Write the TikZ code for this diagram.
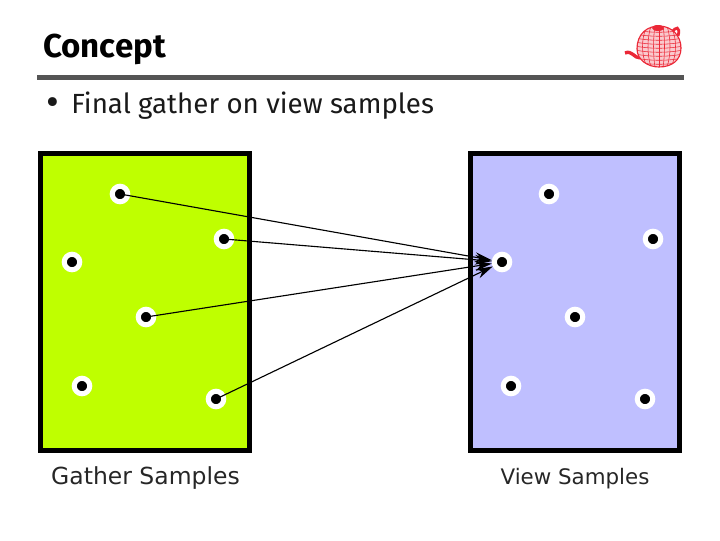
\documentclass[tikz,border=0pt]{standalone}
\usepackage{fontspec}
\setmainfont{Fira Sans}
\newfontfamily\labelfont{DejaVu Sans}
\usetikzlibrary{arrows.meta,positioning}
\definecolor{gathercol}{RGB}{191,255,0}
\definecolor{viewcol}{RGB}{191,191,255}
\definecolor{rulecol}{RGB}{85,85,85}
\definecolor{potcol}{RGB}{235,40,55}
\tikzset{panel/.style={draw,line width=3.6pt,inner sep=0pt,minimum height=211pt},
smp/.style={draw=white,fill=black,circle,line width=3.6pt,minimum size=11pt,inner sep=0pt},
lbl/.style={text=black!85,inner sep=0pt,anchor=base},
arr/.style={-{Stealth[length=12pt,width=7pt]},line width=.8pt,shorten <=-5pt},
pot/.style={potcol,line width=.4pt}}
\begin{document}
\begin{tikzpicture}[x=.025cm,y=-.025cm]
\useasboundingbox(0,0)rectangle(720,540);
\node[inner sep=0pt,anchor=base west,font=\bfseries\fontsize{23.5}{28}\selectfont](title)at(43,57){Concept};
\fill[rulecol](37,75)rectangle(684,79.5);
\node[inner sep=0pt,anchor=base west,font=\fontsize{28}{28}\selectfont,text=black!90](bullet)at(46,115){\textbullet};
\node[inner sep=0pt,anchor=base west,font=\fontsize{19.7}{24}\selectfont,text=black!90](item)at(71,113){Final gather on view samples};
% teapot
\draw[potcol,line width=2.4pt](640,58)..controls(634,58)and(632,50)..(625,53);
\draw[potcol,line width=2pt](672,33)..controls(675,26)and(681,26)..(678,36);
\fill[potcol!25](637,49)..controls(637,33)and(648,26)..(659,26)..controls(672,26)and(681,36)..(681,48)..controls(681,60)and(672,67)..(659,67)..controls(648,67)and(637,60)..(637,49)--cycle;
\begin{scope}
\clip(637,49)..controls(637,33)and(648,26)..(659,26)..controls(672,26)and(681,36)..(681,48)..controls(681,60)and(672,67)..(659,67)..controls(648,67)and(637,60)..(637,49)--cycle;
\foreach\u in{-16,-12,-8,-4,0,4,8,12,16}\draw[pot](659+\u,26)..controls(659+1.5*\u,38)and(659+1.5*\u,55)..(659+\u,67);
\foreach\v in{30,34,38,42,46,50,54,58,62}\draw[pot](635,\v)..controls(650,\v+3)and(668,\v+3)..(683,\v);
\end{scope}
\draw[potcol,line width=.8pt](637,49)..controls(637,33)and(648,26)..(659,26)..controls(672,26)and(681,36)..(681,48)..controls(681,60)and(672,67)..(659,67)..controls(648,67)and(637,60)..(637,49)--cycle;
\fill[potcol](658,28)ellipse(6 and 3);
\node[panel,fill=gathercol,minimum width=148pt](gather)at(145,302){};
\node[panel,fill=viewcol,minimum width=148.6pt](view)at(575.3,302){};
\foreach\n/\x/\y in{g1/120/194,g2/224/239,g3/72/262,g4/146/317,g5/82/386,g6/216/399,v1/549/194,v2/653/239,v3/502/262,v4/575/317,v5/511/386,v6/645/399}\node[smp](\n)at(\x,\y){};
\foreach\a in{g1,g2,g4,g6}\draw[arr](\a)--(v3);
\node[lbl,font=\labelfont\fontsize{16.7}{20}\selectfont](gatherlabel)at(145.5,484){Gather Samples};
\node[lbl,font=\labelfont\fontsize{15.2}{18}\selectfont](viewlabel)at(575,484){View Samples};
\end{tikzpicture}
\end{document}
